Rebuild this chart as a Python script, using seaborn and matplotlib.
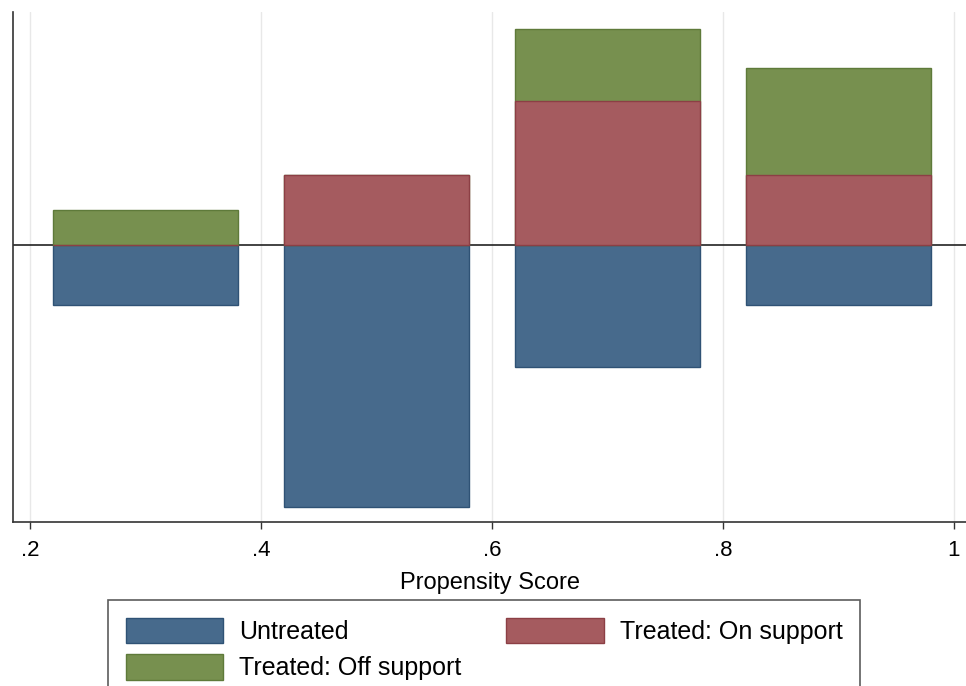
import pandas as pd
from matplotlib import pyplot as plt
import seaborn as sns

# propensity score bins (centres) and bar heights
bins = [0.3, 0.5, 0.7, 0.9]
untreated = [-0.60, -2.62, -1.22, -0.60]
on_support = [0.00, 0.70, 1.44, 0.70]
off_support = [0.35, 0.00, 0.72, 1.07]
tick_values = [0.2, 0.4, 0.6, 0.8, 1.0]
tick_labels = [".2", ".4", ".6", ".8", "1"]

df = pd.DataFrame({"bin": bins, "untreated": untreated,
                   "on": on_support, "off": off_support})
df["treated_total"] = df["on"] + df["off"]

sns.set_style("white")
plt.rcParams["font.family"] = ["Liberation Sans", "DejaVu Sans"]
plt.rcParams["text.color"] = "black"
plt.rcParams["axes.labelcolor"] = "black"
plt.rcParams["xtick.color"] = "black"

blue, blue_edge = "#476a8c", "#2f5275"
red, red_edge = "#a55b5f", "#8c3f45"
green, green_edge = "#77904f", "#5e7a3a"

fig = plt.figure(figsize=(9.66, 6.86), dpi=100)
ax = fig.add_axes([13 / 966, 1 - 522 / 686, 953 / 966, 510 / 686])

# vertical grid and zero line behind the bars
for t in tick_values:
    ax.axvline(t, color="#e8e8e8", lw=1, zorder=0)
ax.axhline(0, color="#222222", lw=1.2, zorder=1)

common = dict(native_scale=True, width=0.8, saturation=1, errorbar=None,
              linewidth=1, ax=ax, zorder=2)
sns.barplot(data=df, x="bin", y="untreated", color=blue, edgecolor=blue_edge, **common)
# stacked treated bars: off support on top of on support
sns.barplot(data=df, x="bin", y="treated_total", color=green, edgecolor=green_edge, **common)
sns.barplot(data=df, x="bin", y="on", color=red, edgecolor=red_edge, **common)

ax.set_xlim(0.1853, 1.0104)
ax.set_ylim(-2.77, 2.33)
ax.set_xticks(tick_values)
ax.set_xticklabels(tick_labels, fontsize=16)
ax.set_yticks([])
ax.set_ylabel("")
ax.set_xlabel("Propensity Score", fontsize=17, labelpad=8)
ax.tick_params(axis="x", direction="out", length=5, width=1, color="#333333",
               pad=8, bottom=True, labelcolor="black")

sns.despine(ax=ax, top=True, right=True)
for side in ["left", "bottom"]:
    ax.spines[side].set_color("#333333")
    ax.spines[side].set_linewidth(1.2)

# legend
handles = [plt.Rectangle((0, 0), 1, 1, facecolor=blue, edgecolor=blue_edge),
           plt.Rectangle((0, 0), 1, 1, facecolor=green, edgecolor=green_edge),
           plt.Rectangle((0, 0), 1, 1, facecolor=red, edgecolor=red_edge)]
labels = ["Untreated", "Treated: Off support", "Treated: On support"]
leg = fig.legend(handles, labels, ncol=2, loc="upper left",
                 bbox_to_anchor=(108 / 966, 1 - 600 / 686), bbox_transform=fig.transFigure,
                 fontsize=18, frameon=True, fancybox=False, borderaxespad=0,
                 handlelength=3.9, handleheight=1.2, handletextpad=0.64,
                 columnspacing=1.8, labelspacing=0.42, borderpad=0.7)
leg.get_frame().set_edgecolor("#333333")
leg.get_frame().set_linewidth(1.2)

plt.savefig("out.png", dpi=100)
